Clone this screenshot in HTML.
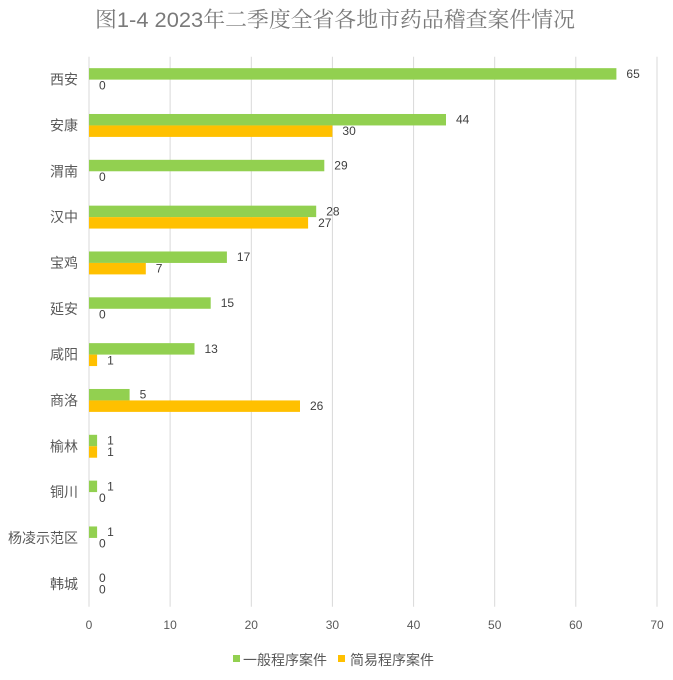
<!DOCTYPE html>
<html>
<head>
<meta charset="utf-8">
<style>
html,body{margin:0;padding:0;background:#fff;}
svg{display:block;}
.cat{font-family:"Liberation Sans","Noto Sans CJK SC",sans-serif;font-size:14px;fill:#595959;}
.tick{font-family:"Liberation Sans","Noto Sans CJK SC",sans-serif;font-size:12px;fill:#595959;}
.lbl{font-family:"Liberation Sans","Noto Sans CJK SC",sans-serif;font-size:12px;fill:#404040;}
.leg{font-family:"Liberation Sans","Noto Sans CJK SC",sans-serif;font-size:14px;fill:#595959;}
.title{font-family:"Liberation Sans","Noto Serif CJK SC",serif;font-size:21.5px;fill:#7a7a7a;}
</style>
</head>
<body>
<svg width="673" height="680" viewBox="0 0 673 680" xmlns="http://www.w3.org/2000/svg">
<rect width="673" height="680" fill="#fff"/>
<text class="title" x="95" y="27" textLength="480" lengthAdjust="spacingAndGlyphs">图1-4 2023年二季度全省各地市药品稽查案件情况</text>

<g stroke="#d9d9d9" stroke-width="1">
<line x1="89" y1="56.7" x2="89" y2="606.7"/>
<line x1="170.1" y1="56.7" x2="170.1" y2="606.7"/>
<line x1="251.3" y1="56.7" x2="251.3" y2="606.7"/>
<line x1="332.4" y1="56.7" x2="332.4" y2="606.7"/>
<line x1="413.6" y1="56.7" x2="413.6" y2="606.7"/>
<line x1="494.7" y1="56.7" x2="494.7" y2="606.7"/>
<line x1="575.8" y1="56.7" x2="575.8" y2="606.7"/>
<line x1="657" y1="56.7" x2="657" y2="606.7"/>
</g>

<g text-anchor="middle" class="tick">
<text x="89" y="629">0</text>
<text x="170.1" y="629">10</text>
<text x="251.3" y="629">20</text>
<text x="332.4" y="629">30</text>
<text x="413.6" y="629">40</text>
<text x="494.7" y="629">50</text>
<text x="575.8" y="629">60</text>
<text x="657" y="629">70</text>
</g>

<g text-anchor="end" class="cat">
<text x="78" y="84.6">西安</text>
<text x="78" y="130.5">安康</text>
<text x="78" y="176.3">渭南</text>
<text x="78" y="222.1">汉中</text>
<text x="78" y="267.9">宝鸡</text>
<text x="78" y="313.8">延安</text>
<text x="78" y="359.6">咸阳</text>
<text x="78" y="405.4">商洛</text>
<text x="78" y="451.3">榆林</text>
<text x="78" y="497.1">铜川</text>
<text x="78" y="542.9">杨凌示范区</text>
<text x="78" y="588.8">韩城</text>
</g>

<g fill="#92D050">
<rect x="89" y="68.16" width="527.4" height="11.46"/>
<rect x="89" y="113.99" width="357.0" height="11.46"/>
<rect x="89" y="159.82" width="235.3" height="11.46"/>
<rect x="89" y="205.65" width="227.2" height="11.46"/>
<rect x="89" y="251.48" width="137.9" height="11.46"/>
<rect x="89" y="297.31" width="121.7" height="11.46"/>
<rect x="89" y="343.14" width="105.5" height="11.46"/>
<rect x="89" y="388.97" width="40.6" height="11.46"/>
<rect x="89" y="434.80" width="8.1" height="11.46"/>
<rect x="89" y="480.63" width="8.1" height="11.46"/>
<rect x="89" y="526.46" width="8.1" height="11.46"/>
</g>
<g fill="#FFC000">
<rect x="89" y="125.45" width="243.4" height="11.46"/>
<rect x="89" y="217.11" width="219.1" height="11.46"/>
<rect x="89" y="262.94" width="56.8" height="11.46"/>
<rect x="89" y="354.60" width="8.1" height="11.46"/>
<rect x="89" y="400.43" width="211.0" height="11.46"/>
<rect x="89" y="446.26" width="8.1" height="11.46"/>
</g>

<g class="lbl">
<text x="626.4" y="77.9">65</text>
<text x="99" y="89.35">0</text>
<text x="456" y="123.7">44</text>
<text x="342.4" y="135.2">30</text>
<text x="334.3" y="169.55">29</text>
<text x="99" y="181.0">0</text>
<text x="326.2" y="215.4">28</text>
<text x="318.1" y="226.8">27</text>
<text x="236.9" y="261.2">17</text>
<text x="155.8" y="272.7">7</text>
<text x="220.7" y="307.0">15</text>
<text x="99" y="318.5">0</text>
<text x="204.5" y="352.9">13</text>
<text x="107.1" y="364.3">1</text>
<text x="139.6" y="398.7">5</text>
<text x="310" y="410.2">26</text>
<text x="107.1" y="444.5">1</text>
<text x="107.1" y="456.0">1</text>
<text x="107.1" y="490.4">1</text>
<text x="99" y="501.8">0</text>
<text x="107.1" y="536.2">1</text>
<text x="99" y="547.7">0</text>
<text x="99" y="582.0">0</text>
<text x="99" y="593.5">0</text>
</g>

<rect x="233" y="655" width="7" height="7" fill="#92D050"/>
<text class="leg" x="243" y="665">一般程序案件</text>
<rect x="338" y="655" width="7" height="7" fill="#FFC000"/>
<text class="leg" x="350" y="665">简易程序案件</text>
</svg>
</body>
</html>
